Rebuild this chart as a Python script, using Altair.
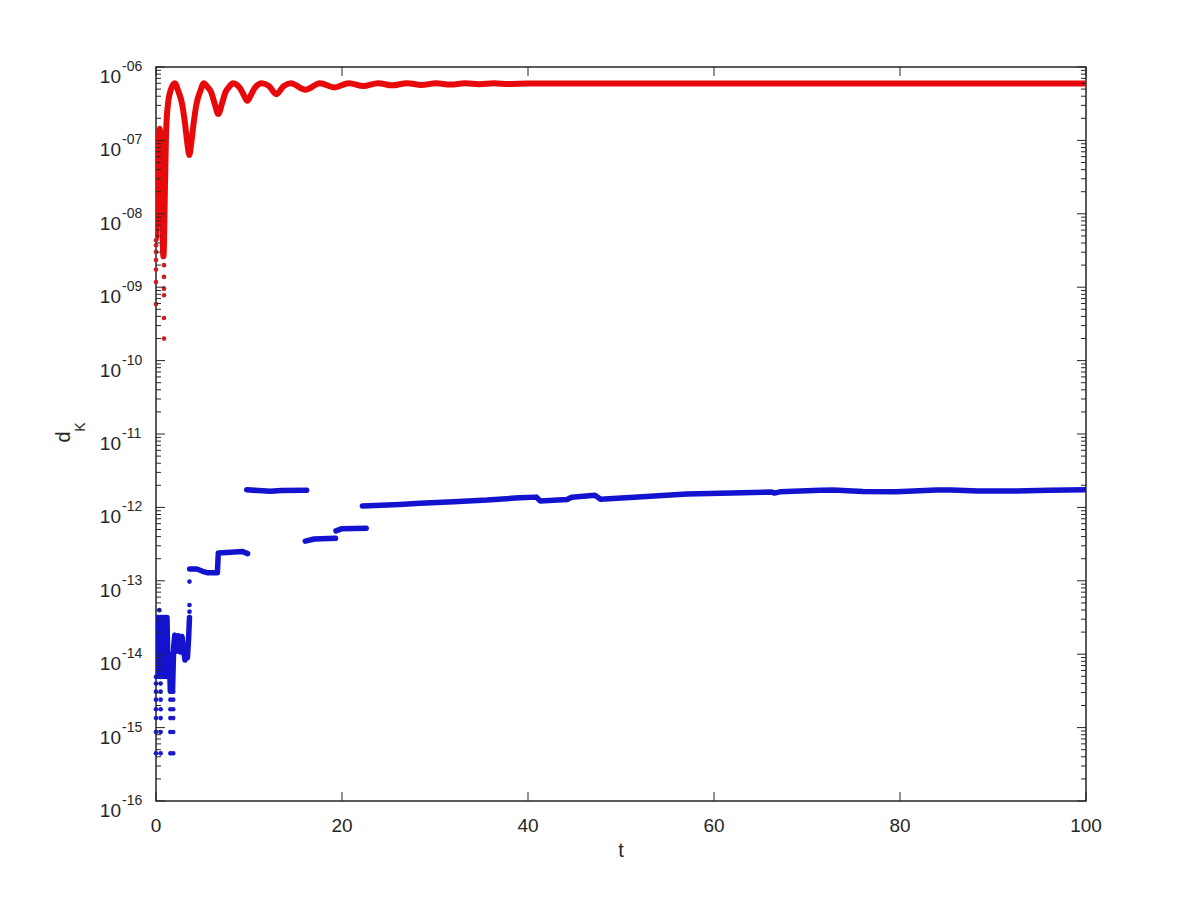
import altair as alt
import pandas as pd

# ---------------- data (t, log10 d_K) ----------------
red_t = [0.00, 0.20, 0.40, 0.55, 0.80, 0.97, 1.08, 1.29, 1.65, 2.02,
         2.40, 2.80, 3.12, 3.37, 3.58, 3.79, 4.04, 4.36, 4.76, 5.14,
         5.52, 5.92, 6.31, 6.70, 7.09, 7.48, 7.87, 8.26,
         9.04, 9.43, 9.82, 10.21, 10.60, 11.38,
         12.16, 12.94, 13.72, 14.50, 16.06, 17.62, 19.18, 20.74, 22.30, 23.86,
         25.42, 26.98, 28.54, 30.10, 31.66, 33.22, 34.78, 36.34, 37.90, 40.0, 100.0]
red_log = [-8.33, -7.40, -6.84, -7.30, -8.58, -7.60, -6.90, -6.50, -6.29, -6.22,
           -6.33, -6.50, -6.77, -7.04, -7.20, -7.04, -6.77, -6.50, -6.33, -6.22,
           -6.27, -6.34, -6.50, -6.64, -6.50, -6.34, -6.27, -6.22,
           -6.29, -6.38, -6.46, -6.38, -6.29, -6.22,
           -6.26, -6.37, -6.26, -6.22, -6.31, -6.22, -6.28, -6.22, -6.26, -6.22,
           -6.25, -6.22, -6.245, -6.222, -6.24, -6.222, -6.235, -6.223, -6.232, -6.225, -6.225]

red_dot_t = [0.0, 0.0, 0.0, 0.0, 0.0, 0.0, 0.0,
             0.86, 0.86, 0.86, 0.86, 0.86, 0.86]
red_dot_log = [-8.36, -8.43, -8.52, -8.63, -8.76, -8.93, -9.23,
               -8.70, -8.86, -9.02, -9.11, -9.42, -9.70]

# blue: segments separated by gaps
blue_t0 = [0.10, 0.22, 0.34, 0.46, 0.58, 0.70, 0.82, 0.94, 1.06, 1.18, 1.30,
           1.42, 1.54, 1.66, 1.78, 1.90, 2.02, 2.20, 2.40, 2.60, 2.80, 3.00,
           3.12, 3.25, 3.38, 3.50, 3.60]
blue_log0 = [-14.30, -13.50, -14.30, -13.50, -14.30, -13.50, -14.30, -13.50, -14.30, -13.50, -14.30,
             -14.00, -14.50, -14.00, -14.50, -13.90, -13.74, -13.96, -13.75, -13.97, -13.76, -13.98,
             -14.08, -13.95, -14.05, -13.80, -13.50]
blue_t1 = [3.62, 4.40, 5.00, 5.50, 6.60, 6.70, 8.00, 9.30, 9.85]
blue_log1 = [-12.84, -12.84, -12.87, -12.89, -12.89, -12.62, -12.61, -12.60, -12.63]
blue_t2 = [9.75, 11.0, 12.3, 13.5, 16.2]
blue_log2 = [-11.76, -11.77, -11.78, -11.77, -11.765]
blue_t3 = [16.05, 17.0, 19.3]
blue_log3 = [-12.46, -12.43, -12.42]
blue_t4 = [19.35, 20.0, 22.6]
blue_log4 = [-12.32, -12.29, -12.285]
blue_t5 = [22.2, 26.2, 28.4, 32.0, 35.6, 39.1, 40.9, 41.3, 44.2, 44.7, 47.2, 47.8,
           51.4, 57.1, 60.7, 66.2, 66.5, 67.1, 71.4, 72.8, 76.0, 79.6, 83.9, 85.5,
           88.4, 92.0, 96.0, 100.0]
blue_log5 = [-11.98, -11.96, -11.944, -11.922, -11.90, -11.868, -11.860, -11.912, -11.893, -11.862, -11.835, -11.888,
             -11.863, -11.817, -11.808, -11.790, -11.805, -11.788, -11.765, -11.762, -11.782, -11.788, -11.762, -11.762,
             -11.778, -11.778, -11.765, -11.76]

blue_dot_t = [0.0, 0.5, 0.0, 0.5, 0.0, 0.5, 0.0, 0.5, 0.0, 0.5, 0.0, 0.5, 0.0, 0.5, 0.0, 0.5,
              1.55, 1.85, 1.55, 1.85, 1.55, 1.85, 1.55, 1.85, 1.55, 1.85, 1.55, 1.85,
              0.36, 3.6, 3.6, 3.6]
blue_dot_log = [-14.31, -14.31, -14.40, -14.40, -14.51, -14.51, -14.62, -14.62, -14.75, -14.75,
                -14.87, -14.87, -15.06, -15.06, -15.35, -15.35,
                -14.51, -14.51, -14.62, -14.62, -14.75, -14.75, -14.87, -14.87, -15.06, -15.06, -15.35, -15.35,
                -13.40, -13.42, -13.33, -13.01]

x_ticks = [0, 20, 40, 60, 80, 100]
y_exps = [-6, -7, -8, -9, -10, -11, -12, -13, -14, -15, -16]

# ---------------- build tables ----------------
red_df = pd.DataFrame({"t": red_t, "v": [10 ** a for a in red_log]})
red_dot_df = pd.DataFrame({"t": red_dot_t, "v": [10 ** a for a in red_dot_log]})
rows = []
for seg, (ts, ls) in enumerate([(blue_t0, blue_log0), (blue_t1, blue_log1), (blue_t2, blue_log2),
                                (blue_t3, blue_log3), (blue_t4, blue_log4), (blue_t5, blue_log5)]):
    for a, b in zip(ts, ls):
        rows.append({"seg": seg, "t": a, "v": 10 ** b})
blue_df = pd.DataFrame(rows)
blue_dot_df = pd.DataFrame({"t": blue_dot_t, "v": [10 ** a for a in blue_dot_log]})

xt_df = pd.DataFrame({"t": x_ticks, "lab": [str(x) for x in x_ticks]})
ymaj_df = pd.DataFrame({"v": [10.0 ** e for e in y_exps],
                        "sup": ["-%02d" % abs(e) for e in y_exps]})
ymin_df = pd.DataFrame({"v": [m * 10.0 ** e for e in range(-16, -6) for m in range(2, 10)]})

W, H = 930, 734
INK = "#262626"
FONT = "Liberation Sans"
xs = alt.Scale(domain=[0, 100], nice=False, zero=False)
ys = alt.Scale(type="log", domain=[1e-16, 1e-6], nice=False)

X = alt.X("t:Q", scale=xs, axis=None)
Y = alt.Y("v:Q", scale=ys, axis=None)

red_line = alt.Chart(red_df).mark_line(color="#e80a0a", strokeWidth=6, interpolate="monotone",
                                       strokeCap="round", strokeJoin="round", clip=True).encode(x=X, y=Y)
red_dots = alt.Chart(red_dot_df).mark_circle(color="#cc1f1f", size=22, opacity=1).encode(x=X, y=Y)
blue_line = alt.Chart(blue_df).mark_line(color="#1212cf", strokeWidth=5.5, strokeCap="round",
                                         strokeJoin="round", clip=True).encode(x=X, y=Y, detail="seg:N")
blue_dots = alt.Chart(blue_dot_df).mark_circle(color="#1a1acc", size=22, opacity=1).encode(x=X, y=Y)

xt_bot = alt.Chart(xt_df).mark_rule(color=INK, strokeWidth=1).encode(x=X, y=alt.value(H), y2=alt.value(H - 9))
xt_top = alt.Chart(xt_df).mark_rule(color=INK, strokeWidth=1).encode(x=X, y=alt.value(0), y2=alt.value(9))
yt_l = alt.Chart(ymaj_df).mark_rule(color=INK, strokeWidth=1).encode(y=Y, x=alt.value(0), x2=alt.value(9))
yt_r = alt.Chart(ymaj_df).mark_rule(color=INK, strokeWidth=1).encode(y=Y, x=alt.value(W), x2=alt.value(W - 9))
ym_l = alt.Chart(ymin_df).mark_rule(color=INK, strokeWidth=1).encode(y=Y, x=alt.value(0), x2=alt.value(5))
ym_r = alt.Chart(ymin_df).mark_rule(color=INK, strokeWidth=1).encode(y=Y, x=alt.value(W), x2=alt.value(W - 5))

xlab = alt.Chart(xt_df).mark_text(font=FONT, fontSize=19, color=INK, align="center",
                                  baseline="alphabetic").encode(x=X, y=alt.value(H + 31), text="lab:N")
ylab10 = alt.Chart(ymaj_df).mark_text(font=FONT, fontSize=19, color=INK, align="right",
                                      baseline="alphabetic", dy=16).encode(y=Y, x=alt.value(-35), text=alt.value("10"))
ylabsup = alt.Chart(ymaj_df).mark_text(font=FONT, fontSize=14, color=INK, align="left",
                                       baseline="alphabetic", dy=4).encode(y=Y, x=alt.value(-34), text="sup:N")

title_df = pd.DataFrame({"k": [0]})
xtitle = alt.Chart(title_df).mark_text(font=FONT, fontSize=20, color=INK, align="center",
                                       baseline="alphabetic").encode(x=alt.value(W / 2), y=alt.value(H + 56),
                                                                      text=alt.value("t"))
ytitle_d = alt.Chart(title_df).mark_text(font=FONT, fontSize=20, color=INK, align="center", baseline="middle",
                                         angle=270).encode(x=alt.value(-92), y=alt.value(370), text=alt.value("d"))
ytitle_k = alt.Chart(title_df).mark_text(font=FONT, fontSize=14, color=INK, align="center", baseline="middle",
                                         angle=270).encode(x=alt.value(-75), y=alt.value(360), text=alt.value("K"))

chart = alt.layer(
    red_line, red_dots, blue_line, blue_dots,
    xt_bot, xt_top, yt_l, yt_r, ym_l, ym_r,
    xlab, ylab10, ylabsup, xtitle, ytitle_d, ytitle_k,
).properties(
    width=W, height=H,
    autosize=alt.AutoSizeParams(type="none"),
    padding={"left": 148, "top": 59, "right": 60, "bottom": 80},
    background="white",
).configure_view(stroke=INK, strokeWidth=1.5)

chart.save("out.html", embed_options={"renderer": "svg", "actions": False})
